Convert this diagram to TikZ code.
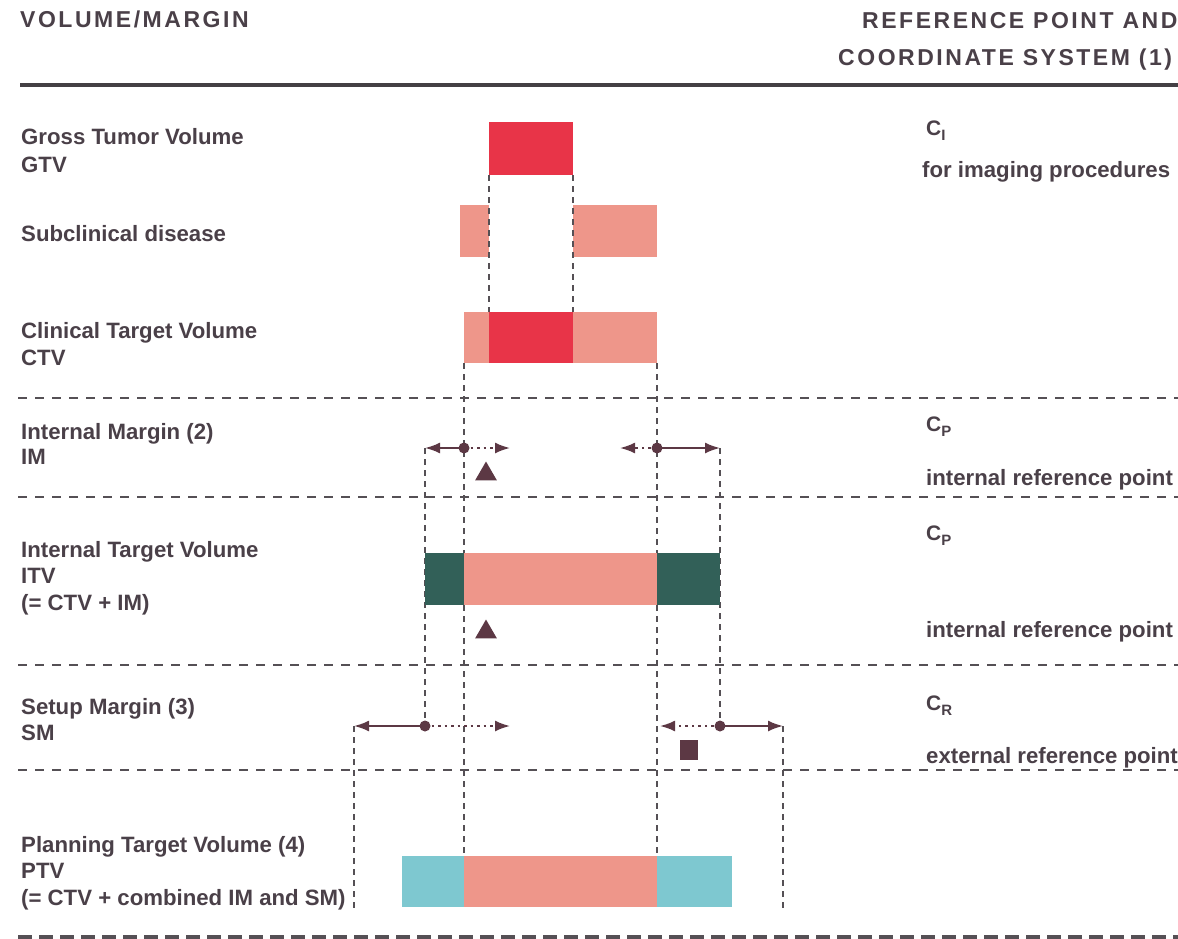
\documentclass[tikz,border=0pt]{standalone}
\usepackage{fontspec}
\setmainfont{Liberation Sans}
\newfontfamily\hdrfamily[LetterSpace=11]{Liberation Sans}
\usetikzlibrary{arrows.meta,shapes.geometric}
\definecolor{txt}{RGB}{74,64,72}
\definecolor{sepgray}{RGB}{85,80,85}
\definecolor{arr}{RGB}{92,56,68}
\definecolor{gtvred}{RGB}{232,52,72}
\definecolor{salmon}{RGB}{238,150,138}
\definecolor{teal}{RGB}{50,96,88}
\definecolor{cyanbox}{RGB}{126,200,208}
\newcommand{\subC}[1]{C\raisebox{-5pt}{\fontsize{15}{15}\selectfont #1}}
\begin{document}
\begin{tikzpicture}[x=1pt,y=-1pt,
  font=\fontsize{22.2}{26}\selectfont\bfseries,
  lab/.style={anchor=base west, inner sep=0pt, text=txt},
  hdr/.style={anchor=base west, inner sep=0pt, text=txt, font=\hdrfamily\bfseries\fontsize{23}{27}\selectfont},
  box/.style={inner sep=0pt, outer sep=0pt, draw=none},
  sepline/.style={draw=sepgray, line width=2pt, dash pattern=on 9pt off 8pt},
  botline/.style={draw=sepgray, line width=5pt, dash pattern=on 14pt off 7pt},
  vdash/.style={draw=sepgray, line width=1.5pt, dash pattern=on 6pt off 5pt},
  solidarr/.style={draw=arr, line width=2pt, -{Latex[length=15pt,width=11pt]}},
  dotarr/.style={draw=arr, line width=2pt, dash pattern=on 2.5pt off 4pt, -{Latex[length=15pt,width=11pt]}},
  refdot/.style={circle, fill=arr, inner sep=0pt, minimum size=11pt},
  marktri/.style={regular polygon, regular polygon sides=3, fill=arr, inner sep=0pt, minimum size=25pt},
]
\useasboundingbox (0,0) rectangle (1178,939);
\clip (0,0) rectangle (1178,939);

% header
\node[hdr] (h1) at (20,28) {VOLUME/MARGIN};
\node[hdr] (h2) at (862,29) {REFERENCE POINT AND};
\node[hdr] (h3) at (838,66) {COORDINATE SYSTEM (1)};
\draw[draw=sepgray!80!black, line width=4pt] (20,85) -- (1178,85);

% horizontal separators
\draw[sepline] (18,398) -- (1178,398);
\draw[sepline] (18,497) -- (1178,497);
\draw[sepline] (18,665) -- (1178,665);
\draw[sepline] (18,770) -- (1178,770);
\draw[botline] (18,937) -- (1178,937);

% coordinates
\coordinate (imLend) at (425,448);
\coordinate (imRend) at (720,448);
\coordinate (imLdot) at (464,448);
\coordinate (imRdot) at (657,448);
\coordinate (imLtip) at (510,448);
\coordinate (imRtip) at (620,448);
\coordinate (smLdot) at (425,726);
\coordinate (smRdot) at (720,726);
\coordinate (smLend) at (354,726);
\coordinate (smRend) at (783,726);
\coordinate (smLtip) at (510,726);
\coordinate (smRtip) at (660,726);
\coordinate (smLfoot) at (354,912);
\coordinate (smRfoot) at (783,912);

% boxes
\node[box, fill=gtvred, minimum width=84pt, minimum height=53pt] (gtv) at (531,148.5) {};
\node[box, fill=salmon, minimum width=29pt, minimum height=52pt] (subL) at (474.5,231) {};
\node[box, fill=salmon, minimum width=84pt, minimum height=52pt] (subR) at (615,231) {};
\node[box, fill=salmon, minimum width=25pt, minimum height=51pt] (ctvL) at (476.5,337.5) {};
\node[box, fill=gtvred, minimum width=84pt, minimum height=51pt] (ctvC) at (531,337.5) {};
\node[box, fill=salmon, minimum width=84pt, minimum height=51pt] (ctvR) at (615,337.5) {};
\node[box, fill=salmon, minimum width=193pt, minimum height=52pt] (itvM) at (560.5,579) {};
\node[box, fill=salmon, minimum width=193pt, minimum height=51pt] (ptvM) at (560.5,881.5) {};

% vertical dashed guides
\draw[vdash] (gtv.south west) -- (ctvC.north west);
\draw[vdash] (gtv.south east) -- (ctvC.north east);
\draw[vdash] (ctvL.south west) -- (ptvM.north west);
\draw[vdash] (ctvR.south east) -- (ptvM.north east);
\draw[vdash] (imLend) -- (smLdot);
\draw[vdash] (imRend) -- (smRdot);
\draw[vdash] (smLend) -- (smLfoot);
\draw[vdash] (smRend) -- (smRfoot);

% ITV and PTV boxes (over the guides)
\node[box, fill=salmon, minimum width=193pt, minimum height=52pt] (itvM2) at (560.5,579) {};
\node[box, fill=teal, minimum width=39pt, minimum height=52pt] (itvL) at (444.5,579) {};
\node[box, fill=teal, minimum width=63pt, minimum height=52pt] (itvR) at (688.5,579) {};
\node[box, fill=salmon, minimum width=193pt, minimum height=51pt] (ptvM2) at (560.5,881.5) {};
\node[box, fill=cyanbox, minimum width=62pt, minimum height=51pt] (ptvL) at (433,881.5) {};
\node[box, fill=cyanbox, minimum width=75pt, minimum height=51pt] (ptvR) at (694.5,881.5) {};

% IM arrows
\draw[solidarr] (imLdot) -- (imLend);
\draw[dotarr] (imLdot) -- (imLtip);
\draw[dotarr] (imRdot) -- (imRtip);
\draw[solidarr] (imRdot) -- (imRend);
\node[refdot] (dIML) at (imLdot) {};
\node[refdot] (dIMR) at (imRdot) {};
\node[marktri] (tri1) at (486,474) {};
\node[marktri] (tri2) at (486,632) {};

% SM arrows
\draw[solidarr] (smLdot) -- (smLend);
\draw[dotarr] (smLdot) -- (smLtip);
\draw[dotarr] (smRdot) -- (smRtip);
\draw[solidarr] (smRdot) -- (smRend);
\node[refdot] (dSML) at (smLdot) {};
\node[refdot] (dSMR) at (smRdot) {};
\node[fill=arr, inner sep=0pt, minimum width=18pt, minimum height=20pt] (sq) at (689,750) {};

% left labels
\node[lab] (l1) at (21,145) {Gross Tumor Volume};
\node[lab] (l2) at (21,172) {GTV};
\node[lab] (l3) at (21,241) {Subclinical disease};
\node[lab] (l4) at (21,338) {Clinical Target Volume};
\node[lab] (l5) at (21,365) {CTV};
\node[lab] (l6) at (21,439) {Internal Margin (2)};
\node[lab] (l7) at (21,464) {IM};
\node[lab] (l8) at (21,557) {Internal Target Volume};
\node[lab] (l9) at (21,583) {ITV};
\node[lab] (l10) at (21,610) {(= CTV + IM)};
\node[lab] (l11) at (21,714) {Setup Margin (3)};
\node[lab] (l12) at (21,740) {SM};
\node[lab] (l13) at (21,852) {Planning Target Volume (4)};
\node[lab] (l14) at (21,878) {PTV};
\node[lab] (l15) at (21,905) {(= CTV + combined IM and SM)};

% right labels
\node[lab, font=\fontsize{21}{24}\selectfont\bfseries] (r1) at (926,136) {\subC{I}};
\node[lab] (r2) at (922,178) {for imaging procedures};
\node[lab, font=\fontsize{21}{24}\selectfont\bfseries] (r3) at (926,431) {\subC{P}};
\node[lab] (r4) at (926,485) {internal reference point};
\node[lab, font=\fontsize{21}{24}\selectfont\bfseries] (r5) at (926,540) {\subC{P}};
\node[lab] (r6) at (926,637) {internal reference point};
\node[lab, font=\fontsize{21}{24}\selectfont\bfseries] (r7) at (926,710) {\subC{R}};
\node[lab] (r8) at (926,763) {external reference point};
\end{tikzpicture}
\end{document}
